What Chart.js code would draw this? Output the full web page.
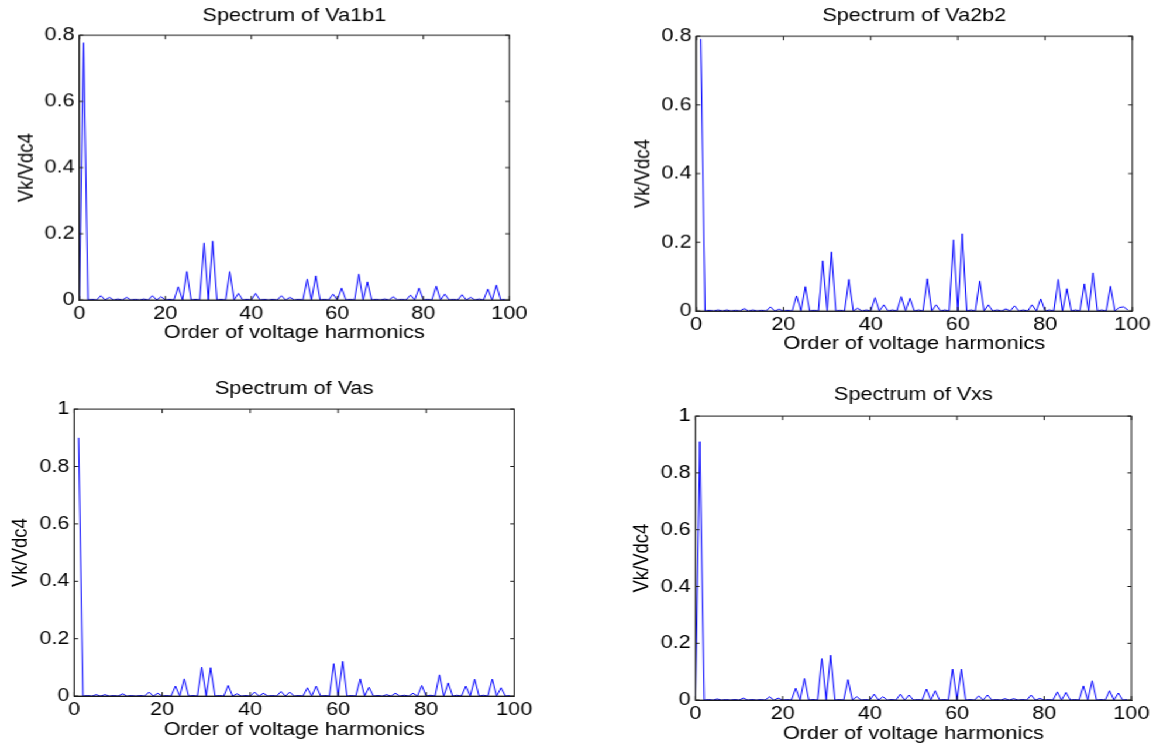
<!DOCTYPE html>
<html>
<head>
<meta charset="utf-8">
<script src="https://cdn.jsdelivr.net/npm/chart.js@4.4.0/dist/chart.umd.min.js"></script>
<style>
  html, body { margin: 0; padding: 0; background: #fff; overflow: hidden; }
  #wrap { position: absolute; left: 0; top: 0; height: 745px; transform-origin: 0 0; }
  .panel { position: absolute; }
</style>
</head>
<body>
<div id="wrap"></div>
<script>
// ---------------- DATA ----------------
const panelTitles = ['Spectrum of Va1b1', 'Spectrum of Va2b2', 'Spectrum of Vas', 'Spectrum of Vxs'];
const xAxisTitle = 'Order of voltage harmonics';
const yAxisTitle = 'Vk/Vdc4';
const xTicks = [0, 20, 40, 60, 80, 100];
const yMaxes = [0.8, 0.8, 1, 1];
const firstOrder = [0, 1, 1, 0];   // harmonic order of first value in each series

// Spectrum of Va1b1, harmonic order 0..99
const va1b1 = [
  0, 0.777, 0, 0.002, 0, 0.013, 0, 0.008, 0, 0.003,
  0, 0.008, 0, 0.002, 0, 0.003, 0, 0.013, 0, 0.010,
  0, 0.002, 0, 0.040, 0, 0.086, 0, 0.002, 0, 0.172,
  0, 0.178, 0, 0.002, 0, 0.086, 0, 0.020, 0, 0.002,
  0, 0.020, 0, 0.002, 0, 0.002, 0, 0.013, 0, 0.008,
  0, 0.002, 0, 0.063, 0, 0.073, 0, 0.002, 0, 0.018,
  0, 0.036, 0, 0.002, 0, 0.078, 0, 0.055, 0, 0.002,
  0, 0.003, 0, 0.010, 0, 0.002, 0, 0.015, 0, 0.036,
  0, 0.002, 0, 0.042, 0, 0.018, 0, 0.002, 0, 0.016,
  0, 0.008, 0, 0.003, 0, 0.033, 0, 0.045, 0, 0.002
];
// Spectrum of Va2b2, harmonic order 1..99
const va2b2 = [
  0.792, 0, 0.002, 0, 0.003, 0, 0.003, 0, 0.002, 0,
  0.007, 0, 0.003, 0, 0.002, 0, 0.012, 0, 0.005, 0,
  0.002, 0, 0.044, 0, 0.071, 0, 0.002, 0, 0.146, 0,
  0.172, 0, 0.002, 0, 0.092, 0, 0.008, 0, 0.003, 0,
  0.039, 0, 0.018, 0, 0.003, 0, 0.042, 0, 0.037, 0,
  0.003, 0, 0.094, 0, 0.018, 0, 0.003, 0, 0.207, 0,
  0.225, 0, 0.003, 0, 0.087, 0, 0.018, 0, 0.003, 0,
  0.006, 0, 0.015, 0, 0.003, 0, 0.018, 0, 0.035, 0,
  0.003, 0, 0.092, 0, 0.065, 0, 0.003, 0, 0.079, 0,
  0.111, 0, 0.003, 0, 0.072, 0, 0.010, 0.012, 0.003
];
// Spectrum of Vas, harmonic order 1..99
const vas = [
  0.900, 0, 0.002, 0, 0.005, 0, 0.005, 0, 0.002, 0,
  0.008, 0, 0.002, 0, 0.002, 0, 0.014, 0, 0.010, 0,
  0.002, 0, 0.035, 0, 0.060, 0, 0.002, 0, 0.101, 0,
  0.099, 0, 0.002, 0, 0.037, 0, 0.008, 0, 0.002, 0,
  0.014, 0, 0.010, 0, 0.002, 0, 0.016, 0, 0.014, 0,
  0.002, 0, 0.029, 0, 0.035, 0, 0.002, 0, 0.113, 0,
  0.121, 0, 0.002, 0, 0.060, 0, 0.031, 0, 0.002, 0,
  0.005, 0, 0.010, 0, 0.003, 0, 0.010, 0, 0.037, 0,
  0.003, 0, 0.074, 0, 0.046, 0, 0.003, 0, 0.035, 0,
  0.059, 0, 0.003, 0, 0.059, 0, 0.029, 0, 0.002
];
// Spectrum of Vxs, harmonic order 0..99
const vxs = [
  0, 0.910, 0, 0.002, 0, 0.004, 0, 0.002, 0, 0.002,
  0, 0.007, 0, 0.002, 0, 0.002, 0, 0.012, 0, 0.007,
  0, 0.002, 0, 0.042, 0, 0.076, 0, 0.002, 0, 0.146,
  0, 0.158, 0, 0.002, 0, 0.072, 0, 0.012, 0, 0.002,
  0, 0.021, 0, 0.012, 0, 0.002, 0, 0.021, 0, 0.018,
  0, 0.002, 0, 0.039, 0, 0.033, 0, 0.002, 0, 0.109,
  0, 0.109, 0, 0.002, 0, 0.015, 0, 0.018, 0, 0.002,
  0, 0.005, 0, 0.005, 0, 0.002, 0, 0.018, 0, 0.006,
  0, 0.002, 0, 0.029, 0, 0.027, 0, 0.002, 0, 0.050,
  0, 0.068, 0, 0.002, 0, 0.033, 0, 0.025, 0, 0.002
];
const seriesList = [va1b1, va2b2, vas, vxs];

// ---------------- LAYOUT (page pixels) ----------------
const STRETCH = 1.17;           // reference is horizontally stretched
const FONT_SIZE = 18.5, LINE_H = 1.2;
const FONT_FAMILY = 'Arial, "Liberation Sans", Helvetica, sans-serif';
// [plotLeft, plotRight, plotTop, plotBottom, titleY, xTitleY, yTitleX]
const geom = [
  [79.3, 509.3, 35, 299, 16, 331.5, 27],
  [696, 1131, 36, 310, 16, 342.5, 643.5],
  [74, 514, 409, 696, 389, 730, 21],
  [696, 1132, 416, 700, 395, 734, 643]
];

const wrap = document.getElementById('wrap');
wrap.style.width = (1155 / STRETCH) + 'px';
wrap.style.transform = 'scaleX(' + STRETCH + ')';

const framePlugin = {
  id: 'matlabFrame',
  afterDraw(chart) {
    const {ctx, chartArea: a, scales: {x, y}} = chart;
    ctx.save();
    ctx.strokeStyle = '#1a1a1a';
    ctx.lineWidth = 1;
    ctx.strokeRect(a.left, a.top, a.right - a.left, a.bottom - a.top);
    const tl = 4, th = 3.4;
    ctx.beginPath();
    x.ticks.forEach(t => {
      const px = x.getPixelForValue(t.value);
      ctx.moveTo(px, a.bottom); ctx.lineTo(px, a.bottom - tl);
      ctx.moveTo(px, a.top); ctx.lineTo(px, a.top + tl);
    });
    y.ticks.forEach(t => {
      const py = y.getPixelForValue(t.value);
      ctx.moveTo(a.left, py); ctx.lineTo(a.left + th, py);
      ctx.moveTo(a.right, py); ctx.lineTo(a.right - th, py);
    });
    ctx.stroke();
    ctx.restore();
  }
};

const lineBox = FONT_SIZE * LINE_H;
const PAD_RIGHT = 28;
const fmtTick = (v) => String(Math.round(v * 10) / 10);

geom.forEach((g, i) => {
  const [pL, pR, pT, pB, tY, xtY, ytX] = g;
  const cLeft = ytX / STRETCH - lineBox / 2;
  const yScaleW = pL / STRETCH - cLeft;
  const cTop = tY - lineBox / 2;
  const titlePadBottom = (pT - cTop) - lineBox;
  const xScaleH = xtY + lineBox / 2 - pB;
  const cW = pR / STRETCH - cLeft + PAD_RIGHT;
  const cH = (pB + xScaleH) - cTop;

  const div = document.createElement('div');
  div.className = 'panel';
  div.style.left = cLeft + 'px';
  div.style.top = cTop + 'px';
  div.style.width = cW + 'px';
  div.style.height = cH + 'px';
  const canvas = document.createElement('canvas');
  div.appendChild(canvas);
  wrap.appendChild(div);

  const values = seriesList[i];
  const pts = values.map((v, k) => ({x: k + firstOrder[i], y: v}));

  new Chart(canvas, {
    type: 'line',
    data: {
      datasets: [{
        data: pts,
        borderColor: 'rgb(0,0,255)',
        borderWidth: 1,
        pointRadius: 0,
        tension: 0,
        fill: false
      }]
    },
    options: {
      responsive: true,
      maintainAspectRatio: false,
      animation: false,
      events: [],
      layout: {padding: {left: 0, top: 0, right: PAD_RIGHT, bottom: 0}},
      plugins: {
        legend: {display: false},
        tooltip: {enabled: false},
        title: {
          display: true,
          text: panelTitles[i],
          fullSize: false,
          color: '#000',
          font: {family: FONT_FAMILY, size: FONT_SIZE, weight: 'normal', lineHeight: LINE_H},
          padding: {top: 0, bottom: titlePadBottom}
        }
      },
      scales: {
        x: {
          type: 'linear',
          min: xTicks[0],
          max: xTicks[xTicks.length - 1],
          afterBuildTicks: (s) => { s.ticks = xTicks.map(v => ({value: v})); },
          grid: {display: false, drawTicks: false},
          border: {display: true, color: '#1a1a1a', width: 1},
          ticks: {
            color: '#000', padding: 3, maxRotation: 0, autoSkip: false,
            callback: fmtTick,
            font: {family: FONT_FAMILY, size: FONT_SIZE, lineHeight: LINE_H}
          },
          title: {
            display: true, text: xAxisTitle, color: '#000', padding: 0,
            font: {family: FONT_FAMILY, size: FONT_SIZE, lineHeight: LINE_H}
          },
          afterFit: (s) => { s.height = xScaleH; }
        },
        y: {
          type: 'linear',
          min: 0,
          max: yMaxes[i],
          ticks: {
            stepSize: 0.2, color: '#000', padding: 4,
            callback: fmtTick,
            font: {family: FONT_FAMILY, size: FONT_SIZE, lineHeight: LINE_H}
          },
          grid: {display: false, drawTicks: false},
          border: {display: true, color: '#1a1a1a', width: 1},
          title: {
            display: true, text: yAxisTitle, color: '#000', padding: 0,
            font: {family: FONT_FAMILY, size: FONT_SIZE, lineHeight: LINE_H}
          },
          afterFit: (s) => { s.width = yScaleW; }
        }
      }
    },
    plugins: [framePlugin]
  });
});
</script>
</body>
</html>
